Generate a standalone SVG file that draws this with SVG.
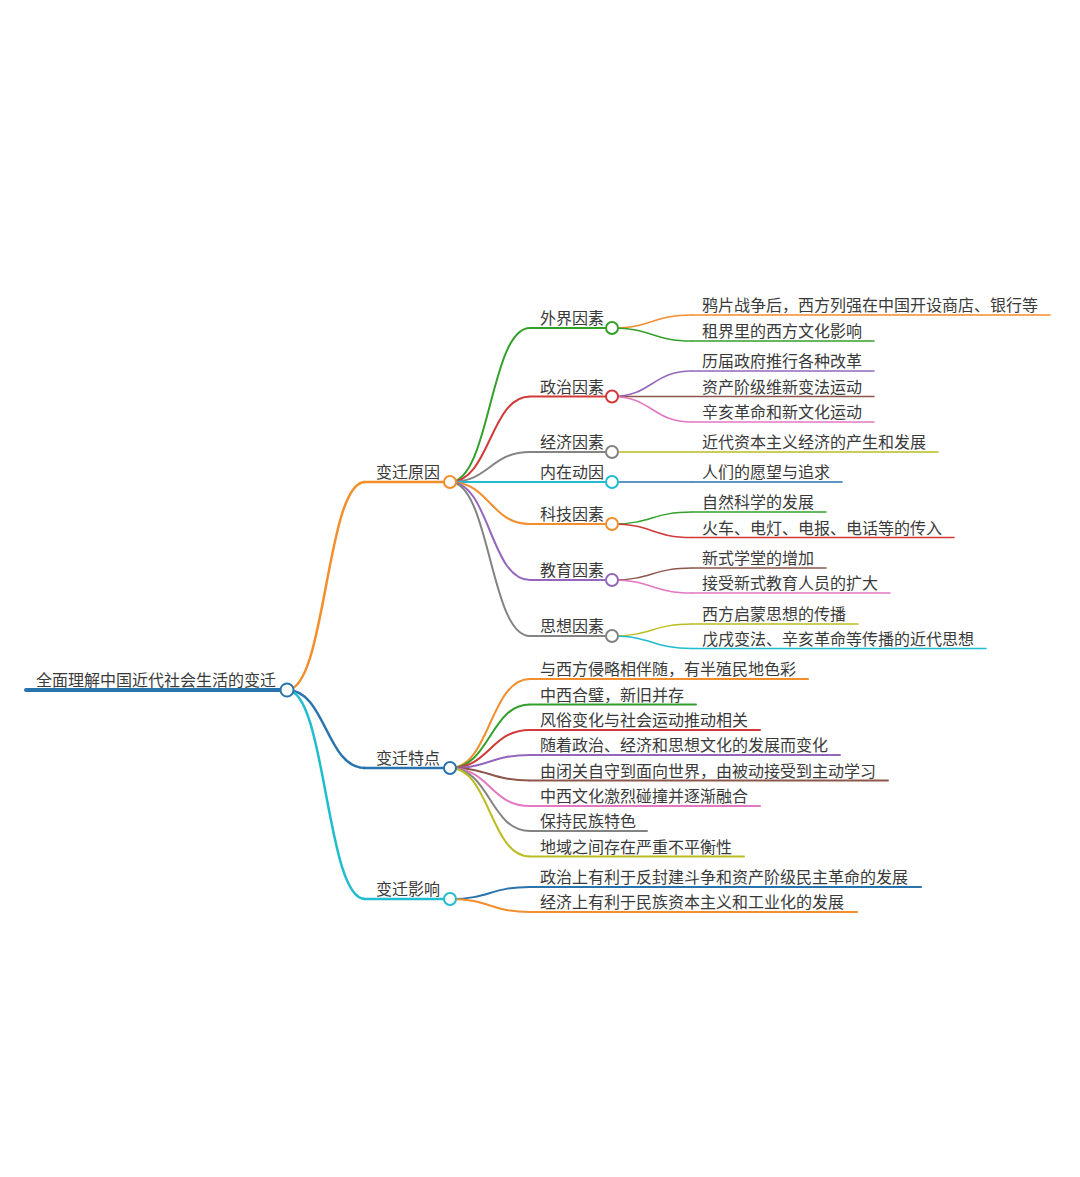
<svg xmlns="http://www.w3.org/2000/svg" width="1080" height="1177" viewBox="0 0 1080 1177">
<style>
text{font-family:"Noto Sans CJK SC","Noto Sans",sans-serif;font-size:16px;fill:#3a3a3a}
.ln{fill:none;stroke-linecap:round}
.lk{fill:none}
.d0{stroke-width:4}
.d1{stroke-width:2.5}
.d2{stroke-width:2}
.d3{stroke-width:1.5}
circle{fill:#fff;stroke-width:2}
.c-blue{stroke:#2a74ad}.c-orange{stroke:#f28e2b}.c-green{stroke:#33a02c}.c-red{stroke:#d23a3a}
.c-purple{stroke:#9467bd}.c-brown{stroke:#8c564b}.c-pink{stroke:#e377c2}.c-gray{stroke:#838383}
.c-olive{stroke:#bcbd22}.c-cyan{stroke:#20bccf}
</style>
<rect width="1080" height="1177" fill="#fff"/>
<g id="connectors">
<path class="lk d1 c-orange" d="M287 690 C326 690,326 482,365 482"/>
<path class="lk d1 c-blue" d="M287 690 C326 690,326 768,365 768"/>
<path class="lk d1 c-cyan" d="M287 690 C326 690,326 899,365 899"/>
<path class="lk d2 c-green" d="M450 482 C490 482,490 328,530 328"/>
<path class="lk d2 c-red" d="M450 482 C490 482,490 396.5,530 396.5"/>
<path class="lk d2 c-gray" d="M450 482 C490 482,490 452,530 452"/>
<path class="lk d2 c-cyan" d="M450 482 L530 482"/>
<path class="lk d2 c-orange" d="M450 482 C490 482,490 524,530 524"/>
<path class="lk d2 c-purple" d="M450 482 C490 482,490 580,530 580"/>
<path class="lk d2 c-gray" d="M450 482 C490 482,490 636,530 636"/>
<path class="lk d3 c-orange" d="M612 328 C652 328,652 315,692 315"/>
<path class="lk d3 c-green" d="M612 328 C652 328,652 341,692 341"/>
<path class="lk d3 c-purple" d="M612 396.5 C652 396.5,652 371,692 371"/>
<path class="lk d3 c-brown" d="M612 396.5 L692 396.5"/>
<path class="lk d3 c-pink" d="M612 396.5 C652 396.5,652 422,692 422"/>
<path class="lk d3 c-olive" d="M612 452 L692 452"/>
<path class="lk d3 c-blue" d="M612 482 L692 482"/>
<path class="lk d3 c-green" d="M612 524 C652 524,652 512,692 512"/>
<path class="lk d3 c-red" d="M612 524 C652 524,652 537.5,692 537.5"/>
<path class="lk d3 c-brown" d="M612 580 C652 580,652 568,692 568"/>
<path class="lk d3 c-pink" d="M612 580 C652 580,652 593,692 593"/>
<path class="lk d3 c-olive" d="M612 636 C652 636,652 624,692 624"/>
<path class="lk d3 c-cyan" d="M612 636 C652 636,652 648.5,692 648.5"/>
<path class="lk d2 c-orange" d="M450 768 C490 768,490 679,530 679"/>
<path class="lk d2 c-green" d="M450 768 C490 768,490 704.5,530 704.5"/>
<path class="lk d2 c-red" d="M450 768 C490 768,490 730,530 730"/>
<path class="lk d2 c-purple" d="M450 768 C490 768,490 755,530 755"/>
<path class="lk d2 c-brown" d="M450 768 C490 768,490 780.5,530 780.5"/>
<path class="lk d2 c-pink" d="M450 768 C490 768,490 806,530 806"/>
<path class="lk d2 c-gray" d="M450 768 C490 768,490 831,530 831"/>
<path class="lk d2 c-olive" d="M450 768 C490 768,490 856.5,530 856.5"/>
<path class="lk d2 c-blue" d="M450 899 C490 899,490 887,530 887"/>
<path class="lk d2 c-orange" d="M450 899 C490 899,490 912,530 912"/>
</g>
<g id="root"><line class="ln d0 c-blue" x1="26" y1="690" x2="287" y2="690"/><text x="36" y="686">全面理解中国近代社会生活的变迁</text><circle class="c-blue" cx="287" cy="690" r="6.5"/></g>
<g id="n-yuanyin"><line class="ln d1 c-orange" x1="364" y1="482" x2="450" y2="482"/><text x="376" y="478">变迁原因</text><circle class="c-orange" cx="450" cy="482" r="6"/></g>
<g id="n-tedian"><line class="ln d1 c-blue" x1="364" y1="768" x2="450" y2="768"/><text x="376" y="764">变迁特点</text><circle class="c-blue" cx="450" cy="768" r="6"/></g>
<g id="n-yingxiang"><line class="ln d1 c-cyan" x1="364" y1="899" x2="450" y2="899"/><text x="376" y="895">变迁影响</text><circle class="c-cyan" cx="450" cy="899" r="6"/></g>
<g id="n-waijie"><line class="ln d2 c-green" x1="530" y1="328" x2="612" y2="328"/><text x="540" y="324">外界因素</text><circle class="c-green" cx="612" cy="328" r="6"/></g>
<g id="n-zhengzhi"><line class="ln d2 c-red" x1="530" y1="396.5" x2="612" y2="396.5"/><text x="540" y="392.5">政治因素</text><circle class="c-red" cx="612" cy="396.5" r="6"/></g>
<g id="n-jingji"><line class="ln d2 c-gray" x1="530" y1="452" x2="612" y2="452"/><text x="540" y="448">经济因素</text><circle class="c-gray" cx="612" cy="452" r="6"/></g>
<g id="n-neizai"><line class="ln d2 c-cyan" x1="530" y1="482" x2="612" y2="482"/><text x="540" y="478">内在动因</text><circle class="c-cyan" cx="612" cy="482" r="6"/></g>
<g id="n-keji"><line class="ln d2 c-orange" x1="530" y1="524" x2="612" y2="524"/><text x="540" y="520">科技因素</text><circle class="c-orange" cx="612" cy="524" r="6"/></g>
<g id="n-jiaoyu"><line class="ln d2 c-purple" x1="530" y1="580" x2="612" y2="580"/><text x="540" y="576">教育因素</text><circle class="c-purple" cx="612" cy="580" r="6"/></g>
<g id="n-sixiang"><line class="ln d2 c-gray" x1="530" y1="636" x2="612" y2="636"/><text x="540" y="632">思想因素</text><circle class="c-gray" cx="612" cy="636" r="6"/></g>
<g id="l-yapian"><line class="ln d3 c-orange" x1="692" y1="315" x2="1050" y2="315"/><text x="702" y="311">鸦片战争后，西方列强在中国开设商店、银行等</text></g>
<g id="l-zujie"><line class="ln d3 c-green" x1="692" y1="341" x2="874" y2="341"/><text x="702" y="337">租界里的西方文化影响</text></g>
<g id="l-lijie"><line class="ln d3 c-purple" x1="692" y1="371" x2="874" y2="371"/><text x="702" y="367">历届政府推行各种改革</text></g>
<g id="l-zichan"><line class="ln d3 c-brown" x1="692" y1="396.5" x2="874" y2="396.5"/><text x="702" y="392.5">资产阶级维新变法运动</text></g>
<g id="l-xinhai"><line class="ln d3 c-pink" x1="692" y1="422" x2="874" y2="422"/><text x="702" y="418">辛亥革命和新文化运动</text></g>
<g id="l-jindai"><line class="ln d3 c-olive" x1="692" y1="452" x2="938" y2="452"/><text x="702" y="448">近代资本主义经济的产生和发展</text></g>
<g id="l-renmen"><line class="ln d3 c-blue" x1="692" y1="482" x2="842" y2="482"/><text x="702" y="478">人们的愿望与追求</text></g>
<g id="l-ziran"><line class="ln d3 c-green" x1="692" y1="512" x2="826" y2="512"/><text x="702" y="508">自然科学的发展</text></g>
<g id="l-huoche"><line class="ln d3 c-red" x1="692" y1="537.5" x2="954" y2="537.5"/><text x="702" y="533.5">火车、电灯、电报、电话等的传入</text></g>
<g id="l-xinshi"><line class="ln d3 c-brown" x1="692" y1="568" x2="826" y2="568"/><text x="702" y="564">新式学堂的增加</text></g>
<g id="l-jieshou"><line class="ln d3 c-pink" x1="692" y1="593" x2="890" y2="593"/><text x="702" y="589">接受新式教育人员的扩大</text></g>
<g id="l-qimeng"><line class="ln d3 c-olive" x1="692" y1="624" x2="858" y2="624"/><text x="702" y="620">西方启蒙思想的传播</text></g>
<g id="l-wuxu"><line class="ln d3 c-cyan" x1="692" y1="648.5" x2="986" y2="648.5"/><text x="702" y="644.5">戊戌变法、辛亥革命等传播的近代思想</text></g>
<g id="t-1"><line class="ln d2 c-orange" x1="530" y1="679" x2="808" y2="679"/><text x="540" y="675">与西方侵略相伴随，有半殖民地色彩</text></g>
<g id="t-2"><line class="ln d2 c-green" x1="530" y1="704.5" x2="696" y2="704.5"/><text x="540" y="700.5">中西合璧，新旧并存</text></g>
<g id="t-3"><line class="ln d2 c-red" x1="530" y1="730" x2="760" y2="730"/><text x="540" y="726">风俗变化与社会运动推动相关</text></g>
<g id="t-4"><line class="ln d2 c-purple" x1="530" y1="755" x2="840" y2="755"/><text x="540" y="751">随着政治、经济和思想文化的发展而变化</text></g>
<g id="t-5"><line class="ln d2 c-brown" x1="530" y1="780.5" x2="888" y2="780.5"/><text x="540" y="776.5">由闭关自守到面向世界，由被动接受到主动学习</text></g>
<g id="t-6"><line class="ln d2 c-pink" x1="530" y1="806" x2="760" y2="806"/><text x="540" y="802">中西文化激烈碰撞并逐渐融合</text></g>
<g id="t-7"><line class="ln d2 c-gray" x1="530" y1="831" x2="647" y2="831"/><text x="540" y="827">保持民族特色</text></g>
<g id="t-8"><line class="ln d2 c-olive" x1="530" y1="856.5" x2="744" y2="856.5"/><text x="540" y="852.5">地域之间存在严重不平衡性</text></g>
<g id="y-1"><line class="ln d2 c-blue" x1="530" y1="887" x2="921" y2="887"/><text x="540" y="883">政治上有利于反封建斗争和资产阶级民主革命的发展</text></g>
<g id="y-2"><line class="ln d2 c-orange" x1="530" y1="912" x2="857" y2="912"/><text x="540" y="908">经济上有利于民族资本主义和工业化的发展</text></g>
</svg>
